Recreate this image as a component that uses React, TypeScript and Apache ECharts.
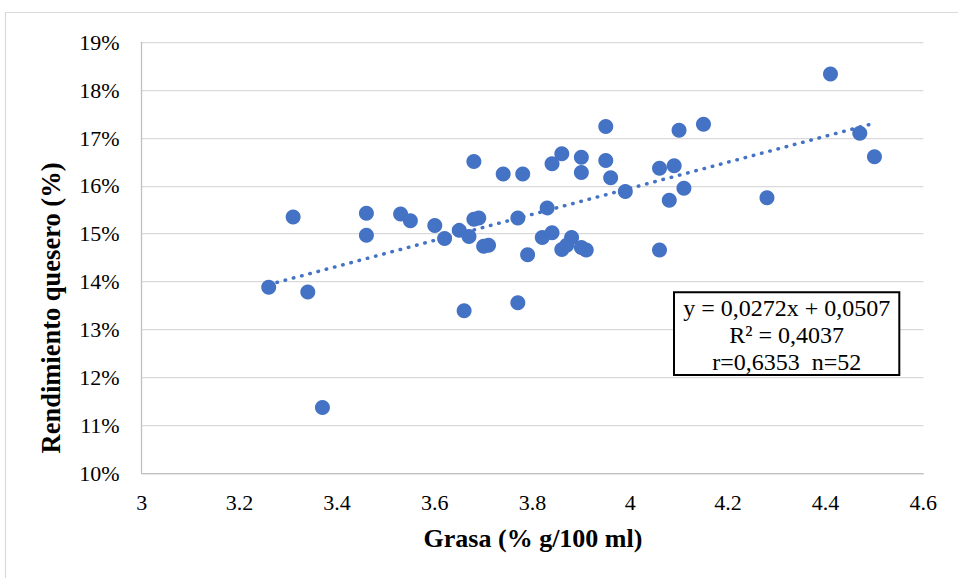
import React, { useEffect, useRef } from "react";
import * as echarts from "echarts";

// Grasa (% g/100 ml)
const fatX = [
  3.26, 3.31, 3.34, 3.37, 3.46, 3.46, 3.53, 3.55, 3.6, 3.62,
  3.65, 3.67, 3.68, 3.68, 3.69, 3.7, 3.71, 3.66, 3.74, 3.78,
  3.77, 3.77, 3.79, 3.83, 3.82, 3.84, 3.86, 3.84, 3.9, 3.9,
  3.86, 3.88, 3.87, 3.9, 3.91, 3.95, 3.95, 3.96, 3.99, 4.06,
  4.09, 4.11, 4.08, 4.06, 4.1, 4.15, 4.28, 4.41, 4.47, 4.5,
];
// Rendimiento quesero (%)
const yieldPct = [
  13.88, 15.35, 13.78, 11.37, 15.43, 14.97, 15.41, 15.27, 15.17, 14.9,
  15.07, 14.94, 16.51, 15.3, 15.33, 14.74, 14.76, 13.39, 16.25, 16.25,
  15.33, 13.56, 14.56, 15.54, 14.92, 15.02, 16.67, 16.46, 16.6, 16.28,
  14.67, 14.92, 14.76, 14.71, 14.66, 17.24, 16.53, 16.17, 15.88, 16.37,
  16.42, 15.95, 15.7, 14.66, 17.16, 17.29, 15.75, 18.34, 17.1, 16.61,
];

const trendSlope = 0.0272;
const trendIntercept = 0.0507;
const statLines = ["y = 0,0272x + 0,0507", "R² = 0,4037", "r=0,6353\u00a0 n=52"];

const xTitle = "Grasa (% g/100 ml)";
const yTitle = "Rendimiento quesero (%)";

const FONT = "'Liberation Serif', 'Times New Roman', serif";
const BLUE = "#4472C4";

export default function App() {
  const ref = useRef<HTMLDivElement>(null);
  useEffect(() => {
    if (!ref.current) return;
    const chart = echarts.init(ref.current, null, { renderer: "svg" });
    const points = fatX.map((x, i) => [x, yieldPct[i]]);
    const xMin = Math.min(...fatX);
    const xMax = Math.max(...fatX);
    const trend = [xMin, xMax].map((x) => [x, (trendSlope * x + trendIntercept) * 100]);

    chart.setOption({
      animation: false,
      backgroundColor: "#ffffff",
      grid: { left: 141.7, right: 34.7, top: 42.3, bottom: 105 },
      xAxis: {
        type: "value",
        min: 3,
        max: 4.6,
        interval: 0.2,
        axisLine: { show: true, lineStyle: { color: "#bfbfbf", width: 1.25 } },
        axisTick: { show: false },
        splitLine: { show: false },
        axisLabel: {
          color: "#000",
          fontFamily: FONT,
          fontSize: 22,
          margin: 18,
          formatter: (v: number) => String(Math.round(v * 10) / 10),
        },
      },
      yAxis: {
        type: "value",
        min: 10,
        max: 19,
        interval: 1,
        axisLine: { show: true, lineStyle: { color: "#bfbfbf", width: 1.25 } },
        axisTick: { show: false },
        splitLine: { show: true, lineStyle: { color: "#d9d9d9", width: 1.25 } },
        axisLabel: {
          color: "#000",
          fontFamily: FONT,
          fontSize: 22,
          margin: 22,
          formatter: "{value}%",
        },
      },
      graphic: [
        {
          type: "rect",
          shape: { x: 5.5, y: 12.5, width: 970, height: 580 },
          style: { fill: "none", stroke: "#d9d9d9", lineWidth: 1.2 },
          silent: true,
          z: -10,
        },
        {
          type: "text",
          x: 533,
          y: 538,
          style: {
            text: xTitle,
            fill: "#000",
            font: `bold 26px ${FONT}`,
            align: "center",
            verticalAlign: "middle",
          },
        },
        {
          type: "text",
          x: 51,
          y: 308,
          rotation: Math.PI / 2,
          style: {
            text: yTitle,
            fill: "#000",
            font: `bold 26.5px ${FONT}`,
            align: "center",
            verticalAlign: "middle",
          },
        },
        {
          type: "rect",
          z: 100,
          shape: { x: 674, y: 292.3, width: 225.3, height: 82.7 },
          style: { fill: "#fff", stroke: "#000", lineWidth: 2 },
        },
        ...statLines.map((t, i) => ({
          type: "text",
          z: 101,
          x: 786.7,
          y: 308 + i * 27,
          style: {
            text: t,
            fill: "#000",
            font: `24px ${FONT}`,
            align: "center",
            verticalAlign: "middle",
          },
        })),
      ],
      series: [
        {
          type: "scatter",
          data: points,
          symbol: "circle",
          symbolSize: 15,
          itemStyle: { color: BLUE, opacity: 1 },
          z: 3,
        },
        {
          type: "line",
          data: trend,
          showSymbol: false,
          symbol: "none",
          lineStyle: { color: BLUE, width: 3.5, type: [0.5, 8], cap: "round", opacity: 1 },
          z: 4,
        },
      ],
    });
    return () => chart.dispose();
  }, []);
  return (
    <div
      ref={ref}
      style={{ position: "fixed", left: 0, top: 0, width: 958, height: 578 }}
    />
  );
}
